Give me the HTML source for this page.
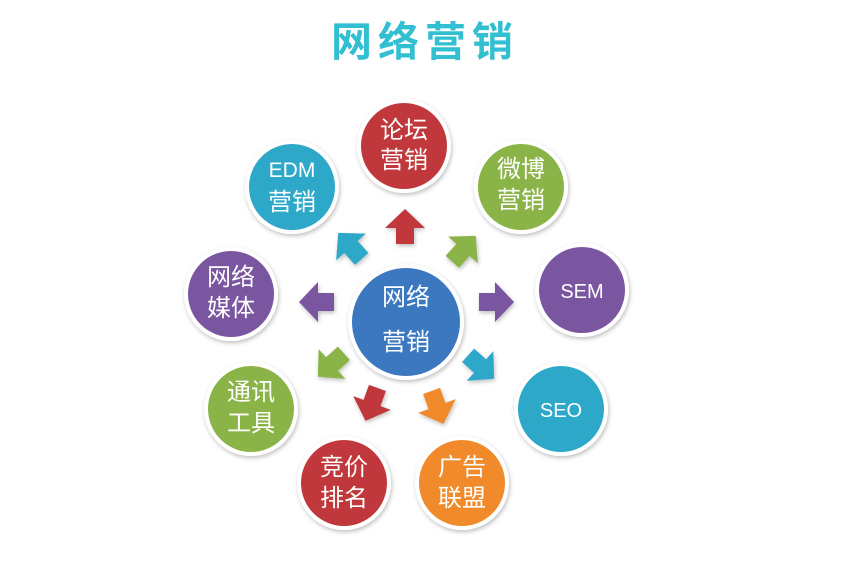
<!DOCTYPE html>
<html><head><meta charset="utf-8"><style>
html,body{margin:0;padding:0;background:#fff;width:850px;height:563px;overflow:hidden}
svg text{font-family:"Liberation Sans","Noto Sans CJK SC",sans-serif;fill:#fff;text-anchor:middle}
</style></head><body>
<svg width="850" height="563" viewBox="0 0 850 563" xmlns="http://www.w3.org/2000/svg">
<defs>
<filter id="sh" x="-20%" y="-20%" width="140%" height="140%"><feDropShadow dx="1" dy="2" stdDeviation="2" flood-color="#000" flood-opacity="0.25"/></filter>
<polygon id="ar" points="0,-19 20,0 9,0 9,16 -9,16 -9,0 -20,0"/>
</defs>
<text x="425" y="56" style="fill:#33bfd2;font-size:41px;font-weight:bold;letter-spacing:6px">网络营销</text>

<g filter="url(#sh)">
<use href="#ar" fill="#c0393b" transform="translate(405,228)"/>
<use href="#ar" fill="#2fa8c8" transform="translate(351,247) rotate(-42)"/>
<use href="#ar" fill="#8ab446" transform="translate(463,250) rotate(42)"/>
<use href="#ar" fill="#7a55a0" transform="translate(318,302) rotate(-90)"/>
<use href="#ar" fill="#7a55a0" transform="translate(495,302) rotate(90)"/>
<use href="#ar" fill="#8ab446" transform="translate(332,364) rotate(-132)"/>
<use href="#ar" fill="#2fa8c8" transform="translate(480,366) rotate(132)"/>
<use href="#ar" fill="#c0393b" transform="translate(372,403) rotate(200)"/>
<use href="#ar" fill="#f08a2c" transform="translate(437,406) rotate(160)"/>
</g>

<g filter="url(#sh)" stroke="#fff" stroke-width="4">
<circle cx="406" cy="322" r="56" fill="#3a78c0"/>
<circle cx="404" cy="146" r="45" fill="#c0393b"/>
<circle cx="292" cy="187" r="45" fill="#2fa8c8"/>
<circle cx="521" cy="187" r="45" fill="#8ab446"/>
<circle cx="231" cy="294" r="45" fill="#7a55a0"/>
<circle cx="582" cy="290" r="45" fill="#7a55a0"/>
<circle cx="251" cy="409" r="45" fill="#8ab446"/>
<circle cx="561" cy="409" r="45" fill="#2fa8c8"/>
<circle cx="344" cy="483" r="45" fill="#c0393b"/>
<circle cx="462" cy="483" r="45" fill="#f08a2c"/>
</g>

<g style="font-size:24px">
<text x="406" y="305">网络</text><text x="406" y="350">营销</text>
<text x="404" y="138">论坛</text><text x="404" y="168">营销</text>
<text x="292" y="177" style="font-size:21px">EDM</text><text x="292" y="210">营销</text>
<text x="521" y="177">微博</text><text x="521" y="208">营销</text>
<text x="231" y="285">网络</text><text x="231" y="316">媒体</text>
<text x="582" y="298" style="font-size:20px">SEM</text>
<text x="251" y="400">通讯</text><text x="251" y="431">工具</text>
<text x="561" y="417" style="font-size:20px">SEO</text>
<text x="344" y="475">竞价</text><text x="344" y="506">排名</text>
<text x="462" y="475">广告</text><text x="462" y="506">联盟</text>
</g>
</svg>
</body></html>
